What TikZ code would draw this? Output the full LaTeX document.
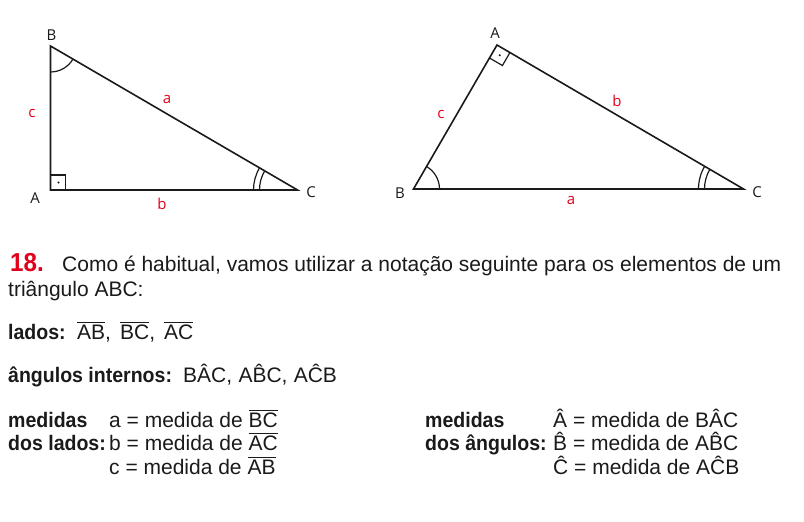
\documentclass[tikz,border=0pt]{standalone}
\usepackage{fontspec}
\setmainfont{Liberation Sans}[BoldFeatures={FakeStretch=0.93}]
\newfontfamily\lblfont{Open Sans}
\usetikzlibrary{angles,calc}
\definecolor{redlbl}{HTML}{E2001A}
\definecolor{ink}{HTML}{1A1A1A}
\newcommand\ovl[1]{\leavevmode\vbox{\hrule height 1.6pt\kern 2.2pt\hbox{#1}}}
\tikzset{
  tri/.style={draw=ink, line width=1.6pt, line join=miter},
  arcm/.style={draw=ink, line width=1.2pt},
  vlbl/.style={inner sep=0pt, font=\lblfont\fontsize{15}{15}\selectfont, text=ink},
  slbl/.style={inner sep=0pt, font=\lblfont\fontsize{15}{15}\selectfont, text=redlbl},
  txt/.style={inner sep=0pt, anchor=base west, font=\fontsize{21}{24}\selectfont, text=ink},
  btxt/.style={txt, font=\fontsize{21}{24}\selectfont\bfseries},
}
\begin{document}
\begin{tikzpicture}[x=1pt,y=1pt]
\useasboundingbox (0,0) rectangle (804,522);
% left triangle
\coordinate (lA) at (50.5,332);
\coordinate (lB) at (50.5,476);
\coordinate (lC) at (297.5,332);
\draw[tri] (lA) -- (lB) -- (lC) -- cycle;
\draw[arcm] ($(lA)+(15,0)$) -- ($(lA)+(15,15)$) -- ($(lA)+(0,15)$);
\fill[ink] ($(lA)+(8,7.5)$) circle (1.1);
\pic[arcm, angle radius=26] {angle = lA--lB--lC};
\pic[arcm, angle radius=44] {angle = lB--lC--lA};
\pic[arcm, angle radius=38] {angle = lB--lC--lA};
\node[vlbl] (tlB) at (51.5,487) {B};
\node[vlbl] (tlA) at (35,324) {A};
\node[vlbl] (tlC) at (311,330) {C};
\node[slbl] (tlc) at (32,409) {c};
\node[slbl] (tla) at (167,423) {a};
\node[slbl] (tlb) at (162,318) {b};
% right triangle
\coordinate (rA) at (497,477);
\coordinate (rB) at (413.5,333);
\coordinate (rC) at (743.5,333);
\draw[tri] (rA) -- (rB) -- (rC) -- cycle;
\coordinate (rAb) at ($(rA)!15pt!(rB)$);
\coordinate (rAc) at ($(rA)!15pt!(rC)$);
\coordinate (rAd) at ($(rAb)+(rAc)-(rA)$);
\draw[arcm] (rAb) -- (rAd) -- (rAc);
\fill[ink] ($(rA)!0.5!(rAd)$) circle (1.1);
\pic[arcm, angle radius=26] {angle = rC--rB--rA};
\pic[arcm, angle radius=45] {angle = rA--rC--rB};
\pic[arcm, angle radius=39] {angle = rA--rC--rB};
\node[vlbl] (trA) at (495,489) {A};
\node[vlbl] (trB) at (400,329) {B};
\node[vlbl] (trC) at (757,330) {C};
\node[slbl] (trc) at (441,408) {c};
\node[slbl] (trb) at (617,421) {b};
\node[slbl] (tra) at (571,322) {a};
% text
\node[txt, font=\fontsize{26}{26}\selectfont\bfseries, text=redlbl] (n18) at (10,250) {18.};
\node[txt] (l1) at (62,250) {Como é habitual, vamos utilizar a notação seguinte para os elementos de um};
\node[txt] (l2) at (8,225) {triângulo ABC:};
\node[btxt] (lados) at (8,182) {lados:};
\node[txt] (sAB) at (77,182) {\ovl{AB},};
\node[txt] (sBC) at (120,182) {\ovl{BC},};
\node[txt] (sAC) at (164,182) {\ovl{AC}};
\node[btxt] (ang) at (8,139) {ângulos internos:};
\node[txt] (angs) at (183,139) {B\^{A}C,\hspace{0.3em}A\^{B}C,\hspace{0.3em}A\^{C}B};
\node[btxt] (med1) at (8,94) {medidas};
\node[btxt] (dl) at (8,71) {dos lados:};
\node[txt] (ma) at (109,94) {a = medida de \ovl{BC}};
\node[txt] (mb) at (109,71) {b = medida de \ovl{AC}};
\node[txt] (mc) at (109,47) {c = medida de \ovl{AB}};
\node[btxt] (med2) at (425,94) {medidas};
\node[btxt] (da) at (425,71) {dos ângulos:};
\node[txt] (mA) at (553,94) {\^{A} = medida de B\^{A}C};
\node[txt] (mB) at (553,71) {\^{B} = medida de A\^{B}C};
\node[txt] (mC) at (553,47) {\^{C} = medida de A\^{C}B};
\end{tikzpicture}
\end{document}
